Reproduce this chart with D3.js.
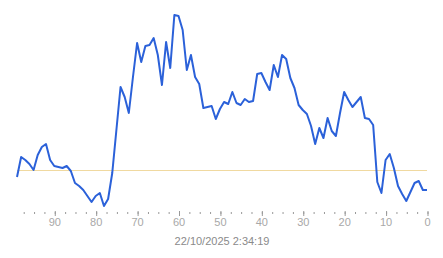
<!DOCTYPE html>
<html>
<head>
<meta charset="utf-8">
<script src="https://cdn.jsdelivr.net/npm/d3@7"></script>
<style>
  body { margin: 0; background: #fff; }
  svg { display: block; font-family: "Liberation Sans", Arial, sans-serif; }
</style>
</head>
<body>
<div id="chart"></div>
<script>
// samples, oldest first (99 ... 0 ago)
const ages = d3.range(99, -1, -1)
const values = [
  33, 53, 50, 46, 40, 55, 63, 66, 50, 44,
  43, 42, 44, 39, 27, 24, 20, 14, 8, 14,
  17, 4, 11, 37, 80, 123, 113, 97, 133, 167,
  148, 164, 165, 172, 155, 125, 168, 142, 195, 194,
  180, 140, 155, 133, 126, 102, 103, 104, 91, 101,
  108, 106, 118, 107, 105, 111, 108, 109, 136, 137,
  128, 120, 145, 133, 155, 151, 132, 122, 105, 100,
  96, 84, 66, 82, 72, 92, 79, 74, 97, 118,
  110, 103, 108, 113, 92, 91, 85, 28, 17, 50,
  56, 42, 24, 16, 9, 18, 27, 29, 20, 20
]
const threshold = 40
const majorTicks = [90, 80, 70, 60, 50, 40, 30, 20, 10, 0]
const minorTicks = d3.range(0, 99, 2.5)
const stamp = '22/10/2025 2:34:19'

const width = 443
const height = 258
const margin = { left: 17, right: 16, top: 10, bottom: 48 }

const svg = d3.select('#chart')
  .append('svg')
    .attr('width', width)
    .attr('height', height)

const x = d3.scaleLinear()
  .domain([99, 0])
  .range([margin.left, width - margin.right])

const y = d3.scaleLinear()
  .domain([0, 200])
  .range([height - margin.bottom, margin.top])

// threshold line
svg.append('line')
  .attr('x1', x(99))
  .attr('x2', x(0))
  .attr('y1', Math.round(y(threshold)) + 0.5)
  .attr('y2', Math.round(y(threshold)) + 0.5)
  .attr('stroke', '#f0d9a0')
  .attr('stroke-width', 1)

const line = d3.line()
  .x((d, i) => x(ages[i]))
  .y(d => y(d))

svg.append('path')
  .attr('d', line(values))
  .attr('fill', 'none')
  .attr('stroke', '#2b61d9')
  .attr('stroke-width', 2)
  .attr('stroke-linejoin', 'round')

// axis
const axisY = 211
svg.append('g')
  .attr('transform', `translate(0, ${axisY})`)
  .call(d3.axisBottom(x).tickValues(minorTicks).tickSize(2).tickFormat(''))
  .call(g => g.select('.domain').remove())
  .call(g => g.selectAll('line').attr('stroke', '#999').attr('transform', 'translate(0.5, 1)'))

svg.append('g')
  .attr('transform', `translate(0, ${axisY})`)
  .call(d3.axisBottom(x).tickValues(majorTicks).tickSize(5).tickPadding(2).tickFormat(d3.format('d')))
  .call(g => g.select('.domain').remove())
  .call(g => g.selectAll('line').attr('stroke', '#999').attr('transform', 'translate(0.5, 0)'))
  .call(g => g.selectAll('text')
    .attr('fill', '#a8a8a8')
    .attr('font-size', 11)
    .attr('font-family', '"Liberation Sans", Arial, sans-serif'))

svg.append('text')
  .attr('x', (x(99) + x(0)) / 2)
  .attr('y', 245)
  .attr('text-anchor', 'middle')
  .attr('fill', '#8a8a8a')
  .attr('font-size', 11)
  .text(stamp)
</script>
</body>
</html>
